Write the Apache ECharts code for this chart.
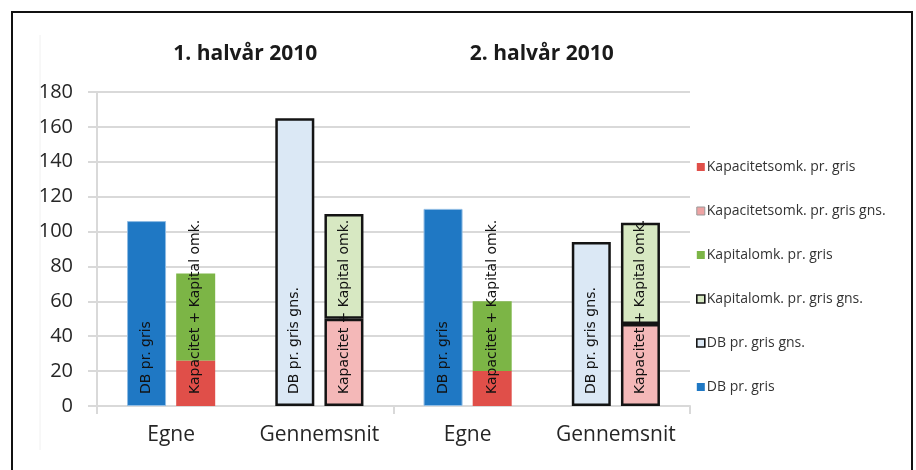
<!DOCTYPE html>
<html>
<head>
<meta charset="utf-8">
<script src="https://cdn.jsdelivr.net/npm/echarts@6/dist/echarts.min.js"></script>
<style>
  html, body { margin: 0; padding: 0; background: #fff; }
  #chart { width: 916px; height: 470px; }
</style>
</head>
<body>
<div id="chart"></div>
<script>
// Categories on the lower axis and the half-year groups above them
const categories = ['Egne', 'Gennemsnit', 'Egne', 'Gennemsnit'];
const periods = ['1. halvår 2010', '2. halvår 2010'];
const yTicks = [0, 20, 40, 60, 80, 100, 120, 140, 160, 180];

// Contribution margin per pig (own farm / average)
const dbPrGris = [106, null, 113, null];
const dbPrGrisGns = [null, 165, null, 94];

// Capacity and capital costs per pig, stacked
const kapacitetPrGris = [26, null, 20, null];
const kapacitetPrGrisGns = [null, 50, null, 47];
const kapitalPrGris = [50, null, 40, null];
const kapitalPrGrisGns = [null, 60, null, 58];

const dbLabel = ['DB pr. gris', 'DB pr. gris gns.', 'DB pr. gris', 'DB pr. gris gns.'];
const costLabel = 'Kapacitet + Kapital omk.';

const legendOrder = [
  'Kapacitetsomk. pr. gris',
  'Kapacitetsomk. pr. gris gns.',
  'Kapitalomk. pr. gris',
  'Kapitalomk. pr. gris gns.',
  'DB pr. gris gns.',
  'DB pr. gris'
];

const gridLine = '#d9d9d9';
const edge = '#141414';

function barLabel(text) {
  return {
    show: true,
    position: 'insideBottom',
    distance: 12,
    rotate: 90,
    align: 'left',
    verticalAlign: 'middle',
    color: '#111',
    fontFamily: 'DejaVu Sans',
    fontSize: 14,
    formatter: text
  };
}

const chart = echarts.init(document.getElementById('chart'), null, { renderer: 'canvas' });

chart.setOption({
  animation: false,
  backgroundColor: '#fff',
  grid: { left: 97, top: 92, width: 593, height: 314, containLabel: false },
  legend: {
    orient: 'vertical',
    left: 691,
    top: 154,
    itemWidth: 8,
    itemHeight: 8,
    itemGap: 28,
    icon: 'rect',
    selectedMode: false,
    textStyle: { fontFamily: 'Open Sans', fontSize: 14, color: '#333', lineHeight: 16, padding: [0, 0, 0, -3] },
    data: [
      { name: legendOrder[0], itemStyle: { borderWidth: 0 } },
      { name: legendOrder[1], itemStyle: { color: '#eea3a3', borderColor: '#999', borderWidth: 1 } },
      { name: legendOrder[2], itemStyle: { borderWidth: 0 } },
      { name: legendOrder[3], itemStyle: { borderColor: edge, borderWidth: 1.6 } },
      { name: legendOrder[4], itemStyle: { borderColor: edge, borderWidth: 1.6 } },
      { name: legendOrder[5], itemStyle: { borderWidth: 0 } }
    ]
  },
  graphic: [
    {
      type: 'rect',
      shape: { x: 12, y: 12, width: 900, height: 480 },
      style: { fill: 'none', stroke: '#111', lineWidth: 2 },
      silent: true
    },
    {
      type: 'line',
      shape: { x1: 40, y1: 35, x2: 40, y2: 450 },
      style: { stroke: '#f0f0f0', lineWidth: 1 },
      silent: true
    }
  ],
  xAxis: [
    {
      type: 'category',
      data: categories,
      position: 'bottom',
      axisLine: { show: true, lineStyle: { color: gridLine, width: 2 } },
      axisTick: { show: false },
      axisLabel: { interval: 0, margin: 19, fontFamily: 'Open Sans', fontSize: 21, color: '#262626' }
    },
    {
      type: 'category',
      data: periods,
      position: 'top',
      axisLine: { show: false },
      axisTick: { show: false },
      axisLabel: { interval: 0, margin: 27, fontFamily: 'Open Sans', fontSize: 21, fontWeight: 'bold', color: '#1a1a1a' }
    },
    {
      type: 'category',
      data: periods,
      position: 'bottom',
      axisLine: { show: false },
      axisTick: { show: true, length: 8, lineStyle: { color: gridLine, width: 2 } },
      axisLabel: { show: false }
    }
  ],
  yAxis: {
    type: 'value',
    min: 0,
    max: 180,
    interval: 20,
    axisLine: { show: true, lineStyle: { color: gridLine, width: 2 } },
    axisTick: { show: true, length: 9, lineStyle: { color: gridLine, width: 2 } },
    axisLabel: {
      margin: 24,
      fontFamily: 'Open Sans',
      fontSize: 20,
      color: '#262626',
      formatter: v => (yTicks.indexOf(v) >= 0 ? String(v) : '')
    },
    splitLine: { show: true, lineStyle: { color: gridLine, width: 2 } }
  },
  series: [
    {
      name: 'DB pr. gris',
      type: 'bar',
      stack: 'db',
      barWidth: 39,
      barGap: '26%',
      data: dbPrGris.map((v, i) => ({ value: v, label: barLabel(dbLabel[i]) })),
      itemStyle: { color: '#1f78c4', borderColor: '#8fbbe3', borderWidth: 1 },
      z: 3
    },
    {
      name: 'DB pr. gris gns.',
      type: 'bar',
      stack: 'db',
      barWidth: 39,
      data: dbPrGrisGns.map((v, i) => ({ value: v, label: barLabel(dbLabel[i]) })),
      itemStyle: { color: '#dbe8f5', borderColor: edge, borderWidth: 2.5 },
      z: 3
    },
    {
      name: 'Kapacitetsomk. pr. gris',
      type: 'bar',
      stack: 'cost',
      barWidth: 39,
      data: kapacitetPrGris.map(v => ({ value: v, label: barLabel(costLabel) })),
      itemStyle: { color: '#e04f49' },
      z: 4
    },
    {
      name: 'Kapacitetsomk. pr. gris gns.',
      type: 'bar',
      stack: 'cost',
      barWidth: 39,
      data: kapacitetPrGrisGns.map(v => ({ value: v, label: barLabel(costLabel) })),
      itemStyle: { color: '#f4b8b8', borderColor: edge, borderWidth: 2.5 },
      z: 4
    },
    {
      name: 'Kapitalomk. pr. gris',
      type: 'bar',
      stack: 'cost',
      barWidth: 39,
      data: kapitalPrGris,
      itemStyle: { color: '#7cb546' },
      z: 3
    },
    {
      name: 'Kapitalomk. pr. gris gns.',
      type: 'bar',
      stack: 'cost',
      barWidth: 39,
      data: kapitalPrGrisGns,
      itemStyle: { color: '#d7e8c2', borderColor: edge, borderWidth: 2.5 },
      z: 3
    }
  ]
});
</script>
</body>
</html>
